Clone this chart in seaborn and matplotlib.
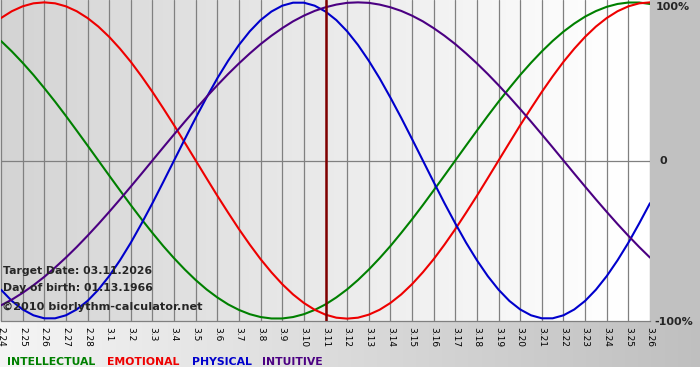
import numpy as np
import pandas as pd
import matplotlib
matplotlib.use('Agg')
import matplotlib.pyplot as plt
import seaborn as sns

# --- DATA (every half day) ---
days = ['2.24', '2.25', '2.26', '2.27', '2.28', '3.1', '3.2', '3.3', '3.4', '3.5',
        '3.6', '3.7', '3.8', '3.9', '3.10', '3.11', '3.12', '3.13', '3.14', '3.15',
        '3.16', '3.17', '3.18', '3.19', '3.20', '3.21', '3.22', '3.23', '3.24', '3.25', '3.26']

intellectual = [0.756, 0.690, 0.618, 0.541, 0.458, 0.372, 0.282, 0.189, 0.095, 0.000,
                -0.095, -0.189, -0.282, -0.372, -0.458, -0.541, -0.618, -0.690, -0.756, -0.815,
                -0.866, -0.910, -0.945, -0.972, -0.990, -0.999, -0.999, -0.990, -0.972, -0.945,
                -0.910, -0.866, -0.815, -0.756, -0.690, -0.618, -0.541, -0.458, -0.372, -0.282,
                -0.189, -0.095, 0.000, 0.095, 0.189, 0.282, 0.372, 0.458, 0.541, 0.618,
                0.690, 0.756, 0.815, 0.866, 0.910, 0.945, 0.972, 0.990, 0.999, 0.999, 0.990]
emotional = [0.901, 0.944, 0.975, 0.994, 1.000, 0.994, 0.975, 0.944, 0.901, 0.847,
             0.782, 0.707, 0.624, 0.532, 0.434, 0.330, 0.223, 0.112, 0.000, -0.112,
             -0.223, -0.330, -0.434, -0.532, -0.624, -0.707, -0.782, -0.847, -0.901, -0.944,
             -0.975, -0.994, -1.000, -0.994, -0.975, -0.944, -0.901, -0.847, -0.782, -0.707,
             -0.624, -0.532, -0.434, -0.330, -0.223, -0.112, 0.000, 0.112, 0.223, 0.330,
             0.434, 0.532, 0.624, 0.707, 0.782, 0.847, 0.901, 0.944, 0.975, 0.994, 1.000]
physical = [-0.817, -0.888, -0.942, -0.979, -0.998, -0.998, -0.979, -0.942, -0.888, -0.817,
            -0.731, -0.631, -0.520, -0.398, -0.270, -0.136, 0.000, 0.136, 0.270, 0.398,
            0.520, 0.631, 0.731, 0.817, 0.888, 0.942, 0.979, 0.998, 0.998, 0.979,
            0.942, 0.888, 0.817, 0.731, 0.631, 0.520, 0.398, 0.270, 0.136, 0.000,
            -0.136, -0.270, -0.398, -0.520, -0.631, -0.731, -0.817, -0.888, -0.942, -0.979,
            -0.998, -0.998, -0.979, -0.942, -0.888, -0.817, -0.731, -0.631, -0.520, -0.398, -0.270]
intuitive = [-0.916, -0.880, -0.837, -0.789, -0.736, -0.677, -0.614, -0.547, -0.476, -0.402,
             -0.325, -0.246, -0.165, -0.083, 0.000, 0.083, 0.165, 0.246, 0.325, 0.402,
             0.476, 0.547, 0.614, 0.677, 0.736, 0.789, 0.837, 0.880, 0.916, 0.946,
             0.969, 0.986, 0.997, 1.000, 0.997, 0.986, 0.969, 0.946, 0.916, 0.880,
             0.837, 0.789, 0.736, 0.677, 0.614, 0.547, 0.476, 0.402, 0.325, 0.246,
             0.165, 0.083, 0.000, -0.083, -0.165, -0.246, -0.325, -0.402, -0.476, -0.547, -0.614]

target_day = '3.11'
legend_names = ['INTELLECTUAL', 'EMOTIONAL', 'PHYSICAL', 'INTUITIVE']
info_lines = ['Target Date: 03.11.2026', 'Day of birth: 01.13.1966']
copyright_text = '\u00a92010 biorlythm-calculator.net'

# Colors
palette = {'INTELLECTUAL': '#008000', 'EMOTIONAL': '#ee0000',
           'PHYSICAL': '#0000cc', 'INTUITIVE': '#4b0082'}
GRID = '#808080'

# long format for seaborn, samples are half a day apart
series = {'INTELLECTUAL': intellectual, 'EMOTIONAL': emotional,
          'PHYSICAL': physical, 'INTUITIVE': intuitive}
rows = []
for name, vals in series.items():
    for h, v in enumerate(vals):
        rows.append({'day': h / 2, 'value': v, 'cycle': name})
df = pd.DataFrame(rows)

sns.set_style('white')
plt.rcParams['font.family'] = ['DejaVu Sans']

W, H = 700, 380
fig = plt.figure(figsize=(W / 100, H / 100), dpi=100)

# --- background (gradients of the original widget) ---
px_left, px_right, px_bottom = 1, 650, 321
img = np.ones((H, W, 3))
xs = np.arange(W)
plot_grad = np.clip(0.83 + 0.17 * xs / 620, 0, 1)
band_grad = 0.96 - 0.21 * xs / W
img[:px_bottom, :, :] = plot_grad[None, :, None]
img[:px_bottom, px_right:, :] = 0.76
img[px_bottom:367, :, :] = band_grad[None, :, None]
bg = fig.add_axes([0, 0, 1, 1], zorder=-5)
bg.imshow(img, aspect='auto', extent=[0, W, H, 0], interpolation='bilinear')
bg.set_xlim(0, W)
bg.set_ylim(H, 0)
bg.axis('off')

# --- main axes ---
ax = fig.add_axes([px_left / W, (H - px_bottom) / H, (px_right - px_left) / W, px_bottom / H])
ax.set_facecolor('none')

sns.lineplot(data=df, x='day', y='value', hue='cycle', palette=palette,
             hue_order=legend_names, lw=1.5, legend=False, ax=ax, zorder=3)

ax.axhline(0, color=GRID, lw=0.9, zorder=1)
ax.axvline(days.index(target_day), color='#800000', lw=1.8, zorder=4)

ax.set_xlim(0, len(days) - 1)
ax.set_ylim(-1.015, 1.015)
ax.set_xticks(range(len(days)))
ax.set_xticklabels(days)
ax.set_yticks([])
ax.set_xlabel('')
ax.set_ylabel('')
ax.grid(axis='x', color=GRID, lw=0.9, zorder=1)
ax.set_axisbelow(True)
for s in ['top', 'left', 'right']:
    ax.spines[s].set_visible(False)
ax.spines['bottom'].set_color(GRID)
ax.spines['bottom'].set_linewidth(0.9)
ax.tick_params(axis='x', length=3, width=0.8, color=GRID, pad=1,
               labelsize=6.5, labelrotation=270, labelcolor='black')

# right side labels
fig.text(656 / W, 1 - 7 / H, '100%', fontsize=8, fontweight='bold', va='center')
fig.text(659 / W, 1 - 161 / H, '0', fontsize=8, fontweight='bold', va='center')
fig.text(654 / W, 1 - 322 / H, '-100%', fontsize=8, fontweight='bold', va='center')

# info text
fig.text(3 / W, 1 - 271 / H, info_lines[0], fontsize=7.8, fontweight='bold', va='center')
fig.text(3 / W, 1 - 288 / H, info_lines[1], fontsize=7.8, fontweight='bold', va='center')
fig.text(2 / W, 1 - 307 / H, copyright_text, fontsize=8.1, fontweight='bold', va='center')

# coloured legend words
legend_x = [7, 107, 192, 262]
for name, lx in zip(legend_names, legend_x):
    fig.text(lx / W, 1 - 362 / H, name, color=palette[name], fontsize=7.8,
             fontweight='bold', va='center')

fig.savefig('out.png', dpi=100)
